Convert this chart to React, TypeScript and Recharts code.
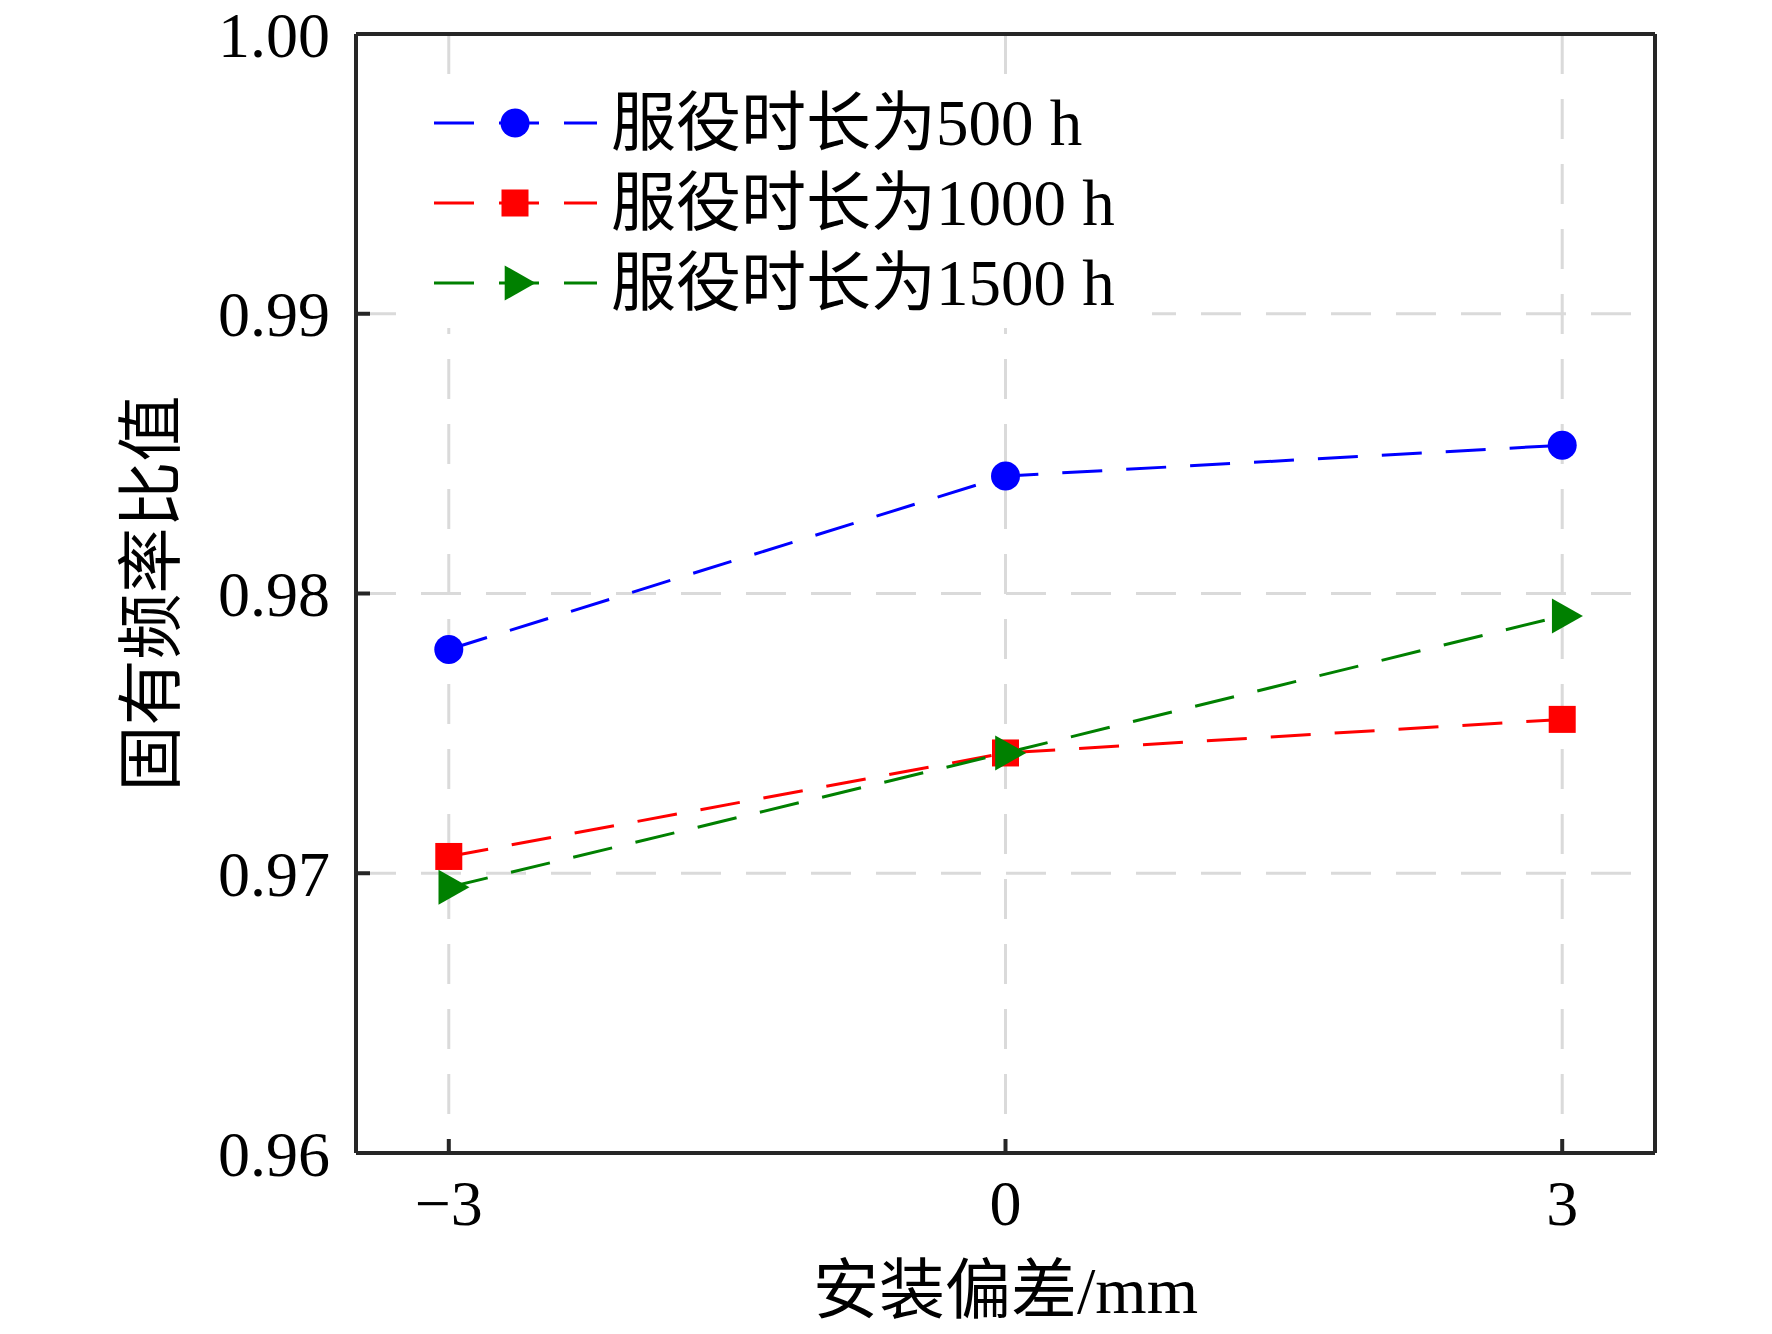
import { LineChart, Line, XAxis, YAxis, CartesianGrid, Legend } from 'recharts'

const FONT = "'Liberation Serif', 'Noto Sans CJK SC', serif"

const categories = [-3, 0, 3]
const series500 = [0.978, 0.9842, 0.9853]
const series1000 = [0.9706, 0.9743, 0.9755]
const series1500 = [0.9695, 0.9743, 0.9792]
const seriesNames = ['服役时长为500 h', '服役时长为1000 h', '服役时长为1500 h']
const xTicks = [-3, 0, 3]
const yTicks = [0.96, 0.97, 0.98, 0.99, 1.0]

const data = categories.map((x, i) => ({
  x,
  s500: series500[i],
  s1000: series1000[i],
  s1500: series1500[i],
}))

type Shape = 'circle' | 'square' | 'triangle'

const SERIES: { key: string; name: string; color: string; shape: Shape }[] = [
  { key: 's500', name: seriesNames[0], color: '#0000ff', shape: 'circle' },
  { key: 's1000', name: seriesNames[1], color: '#ff0000', shape: 'square' },
  { key: 's1500', name: seriesNames[2], color: '#008000', shape: 'triangle' },
]

const AXIS = { stroke: '#262626', strokeWidth: 4 }
const DASH = '40 25'

function Marker({ shape, cx, cy, color }: { shape: Shape; cx: number; cy: number; color: string }) {
  if (shape === 'circle') return <circle cx={cx} cy={cy} r={14.5} fill={color} />
  if (shape === 'square') return <rect x={cx - 13.5} y={cy - 13.5} width={27} height={27} fill={color} />
  // right-pointing triangle, centroid on the point
  const pts = `${cx - 10.3},${cy - 17.5} ${cx + 20.7},${cy} ${cx - 10.3},${cy + 17.5}`
  return <polygon points={pts} fill={color} />
}

function makeDot(shape: Shape, color: string) {
  return (props: any) => {
    const { cx, cy, index } = props
    if (cx == null || cy == null) return <g key={index} />
    return <Marker key={index} shape={shape} cx={cx} cy={cy} color={color} />
  }
}

function LegendBox() {
  return (
    <svg width={740} height={240} style={{ display: 'block', background: '#fff' }}>
      {SERIES.map((s, i) => {
        const cy = 35 + i * 80
        return (
          <g key={s.key}>
            <line x1={22} x2={185} y1={cy} y2={cy} stroke={s.color} strokeWidth={3} strokeDasharray={DASH} />
            <Marker shape={s.shape} cx={103} cy={cy} color={s.color} />
            <text x={199} y={cy + 22} fontSize={65} fontFamily={FONT} fill="#000">
              {s.name}
            </text>
          </g>
        )
      })}
    </svg>
  )
}

export default function App() {
  return (
    <div>
      <style>{'body{margin:0;overflow:hidden;background:#fff}'}</style>
      <LineChart width={1772} height={1334} data={data} margin={{ top: 24, right: 107, bottom: 121, left: 256 }}>
        <CartesianGrid stroke="#dadada" strokeWidth={3} strokeDasharray={DASH} />
        <XAxis
          dataKey="x"
          type="number"
          domain={[-3.5, 3.5]}
          ticks={xTicks}
          interval={0}
          height={60}
          axisLine={AXIS}
          tickLine={AXIS}
          tickSize={-14}
          tickMargin={41}
          tickFormatter={(v: number) => (v < 0 ? `−${Math.abs(v)}` : `${v}`)}
          tick={{ fill: '#000', fontSize: 64, fontFamily: FONT }}
          label={{
            content: ({ viewBox }: any) => (
              <text
                x={viewBox.x + viewBox.width / 2}
                y={viewBox.y + 137}
                textAnchor="middle"
                dominantBaseline="central"
                fontSize={66}
                fontFamily={FONT}
                fill="#000"
              >
                安装偏差/mm
              </text>
            ),
          }}
        />
        <XAxis
          xAxisId="top"
          orientation="top"
          dataKey="x"
          type="number"
          domain={[-3.5, 3.5]}
          ticks={xTicks}
          interval={0}
          height={10}
          axisLine={AXIS}
          tickLine={AXIS}
          tickSize={-14}
          tick={false}
        />
        <YAxis
          type="number"
          domain={[0.96, 1.0]}
          ticks={yTicks}
          interval={0}
          width={100}
          allowDataOverflow
          axisLine={AXIS}
          tickLine={AXIS}
          tickSize={-14}
          tickMargin={40}
          tickFormatter={(v: number) => v.toFixed(2)}
          tick={{ fill: '#000', fontSize: 64, fontFamily: FONT }}
          label={{
            content: ({ viewBox }: any) => {
              const x = viewBox.x + viewBox.width - 205
              const y = viewBox.y + viewBox.height / 2
              return (
                <text
                  x={x}
                  y={y}
                  transform={`rotate(-90, ${x}, ${y})`}
                  textAnchor="middle"
                  dominantBaseline="central"
                  fontSize={66}
                  fontFamily={FONT}
                  fill="#000"
                >
                  固有频率比值
                </text>
              )
            },
          }}
        />
        <YAxis
          yAxisId="right"
          orientation="right"
          type="number"
          domain={[0.96, 1.0]}
          ticks={yTicks}
          interval={0}
          width={10}
          axisLine={AXIS}
          tickLine={AXIS}
          tickSize={-14}
          tick={false}
        />
        <Legend
          layout="vertical"
          align="center"
          verticalAlign="middle"
          wrapperStyle={{ left: 412, top: 88, width: 740, height: 240 }}
          content={() => <LegendBox />}
        />
        {SERIES.map((s) => (
          <Line
            key={s.key}
            type="linear"
            dataKey={s.key}
            name={s.name}
            stroke={s.color}
            strokeWidth={3}
            strokeDasharray="40 24"
            dot={makeDot(s.shape, s.color)}
            activeDot={false}
            isAnimationActive={false}
          />
        ))}
      </LineChart>
    </div>
  )
}
